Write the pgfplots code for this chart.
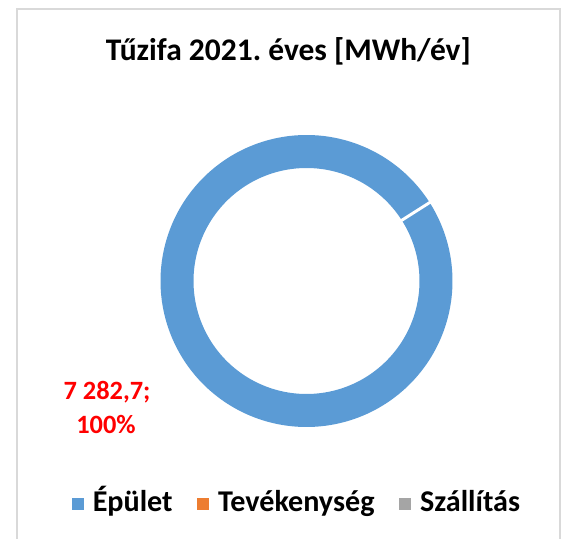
\documentclass[border=0pt]{standalone}
\usepackage{pgfplots}
\pgfplotsset{compat=1.18}
\usepackage{pgfplotstable}
\usepackage{fontspec}
\setmainfont{Carlito}
\frenchspacing
\definecolor{cBlue}{HTML}{5B9BD5}
\definecolor{cOrange}{HTML}{ED7D31}
\definecolor{cGray}{HTML}{A5A5A5}
\definecolor{cFrame}{HTML}{D9D9D9}
\definecolor{cRed}{HTML}{FF0000}
% values of the three slices [MWh/ev]
\pgfplotstableread{
idx value
0 7282.7
1 0
2 0
}\slices
\begin{document}
\begin{tikzpicture}
\pgfmathsetmacro{\vA}{7282.7/1000}
\pgfmathsetmacro{\vB}{0/1000}
\pgfmathsetmacro{\vC}{0/1000}
\pgfmathsetmacro{\total}{\vA+\vB+\vC}
\pgfmathsetmacro{\sweepA}{360*(\vA/\total)}
\begin{axis}[
  scale only axis, width=429pt, height=404.25pt,
  xmin=0, xmax=572, ymin=0, ymax=539,
  hide axis,
  legend columns=3,
  legend style={at={(axis cs:71.7,35)}, anchor=west, draw=none, fill=none, inner sep=0pt,
    font=\bfseries\fontsize{22.6}{26}\selectfont,
    nodes={text height=16pt, text depth=5pt},
    /tikz/every odd column/.style={column sep=4.8pt},
    /tikz/every even column/.style={column sep=16.5pt}},
  legend image code/.code={\fill[#1, draw=none, line width=0pt] (0pt,-4.4pt) rectangle (8.8pt,4.4pt);},
]
\coordinate (SW) at (axis cs:0,0);
\coordinate (NE) at (axis cs:572,539);
% frame
\draw[cFrame, line width=1.1pt] (axis cs:17,-10) -- (axis cs:17,530) -- (axis cs:560,530) -- (axis cs:560,-10);
% donut ring (slice Epulet, 100%)
\addplot[draw=cBlue, line width=24.75pt, line cap=butt, domain=0:\sweepA, samples=361, variable=\t, forget plot]
  ({306.5+129.5*cos(32.5-\t)}, {258+129.5*sin(32.5-\t)});
% slice border (white)
\addplot[draw=white, line width=2.2pt, forget plot] coordinates {(398.3,316.5) (432.1,338.0)};
\addlegendimage{fill=cBlue}
\addlegendentry{Épület}
\addlegendimage{fill=cOrange}
\addlegendentry{Tevékenység}
\addlegendimage{fill=cGray}
\addlegendentry{Szállítás}
% title
\node[anchor=base, font=\bfseries\fontsize{23.6}{28}\selectfont] at (axis cs:288.3,478.5) {Tűzifa 2021. éves [MWh/év]};
% data label
\node[anchor=base, text=cRed, font=\bfseries\fontsize{19.8}{24}\selectfont] at (axis cs:107,139) {7 282,7;};
\node[anchor=base, text=cRed, font=\bfseries\fontsize{19.8}{24}\selectfont] at (axis cs:106,105) {100\%};
\end{axis}
\pgfresetboundingbox
\path[use as bounding box] (SW) rectangle (NE);
\end{tikzpicture}
\end{document}
